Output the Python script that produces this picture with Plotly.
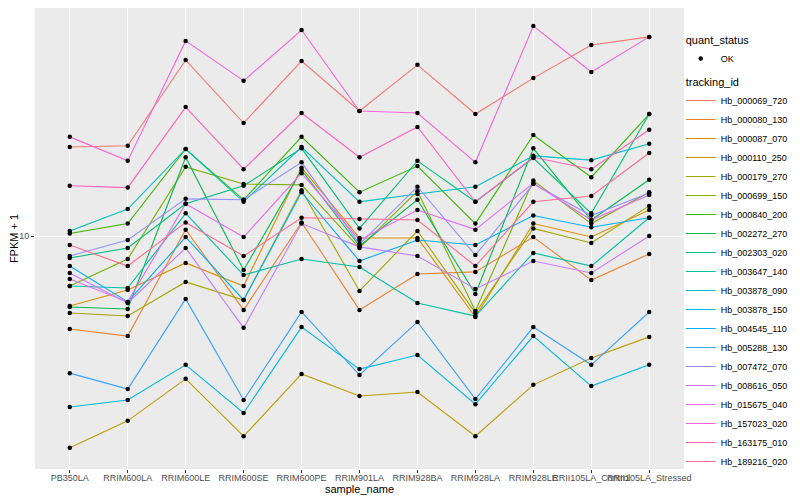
import plotly.graph_objects as go

samples = ["PB350LA", "RRIM600LA", "RRIM600LE", "RRIM600SE", "RRIM600PE", "RRIM901LA",
           "RRIM928BA", "RRIM928LA", "RRIM928LE", "RRII105LA_Control", "RRII105LA_Stressed"]

tracking_ids = ["Hb_000069_720", "Hb_000080_130", "Hb_000087_070", "Hb_000110_250",
                "Hb_000179_270", "Hb_000699_150", "Hb_000840_200", "Hb_002272_270",
                "Hb_002303_020", "Hb_003647_140", "Hb_003878_090", "Hb_003878_150",
                "Hb_004545_110", "Hb_005288_130", "Hb_007472_070", "Hb_008616_050",
                "Hb_015675_040", "Hb_157023_020", "Hb_163175_010", "Hb_189216_020"]

# FPKM + 1 values per gene, one value per sample
Hb_000069_720 = [19.8, 20.0, 38.6, 23.8, 38.3, 26.1, 37.2, 25.5, 33.6, 43.3, 46.1]
Hb_000080_130 = [4.90, 4.64, 10.5, 5.67, 11.1, 5.67, 7.47, 7.59, 9.92, 7.13, 8.71]
Hb_000087_070 = [5.84, 6.61, 8.13, 6.81, 16.9, 9.85, 9.85, 5.37, 11.0, 9.92, 12.2]
Hb_000110_250 = [1.97, 2.42, 3.34, 2.15, 3.47, 2.93, 3.02, 2.15, 3.19, 3.92, 4.61]
Hb_000179_270 = [5.54, 5.41, 7.03, 6.12, 14.2, 6.56, 10.4, 5.54, 10.6, 9.48, 12.6]
Hb_000699_150 = [6.81, 8.38, 17.0, 14.9, 14.8, 9.12, 14.1, 5.62, 15.3, 11.0, 14.0]
Hb_000840_200 = [10.2, 11.0, 19.5, 13.2, 21.4, 14.0, 17.1, 11.0, 21.7, 15.7, 25.5]
Hb_002272_270 = [5.80, 5.71, 18.3, 7.70, 16.6, 9.26, 13.2, 6.41, 19.6, 11.3, 15.4]
Hb_002303_020 = [8.45, 9.12, 12.8, 14.7, 19.6, 10.6, 17.8, 13.0, 18.2, 11.9, 25.5]
Hb_003647_140 = [6.81, 6.71, 11.9, 7.41, 8.38, 7.88, 5.98, 5.41, 8.78, 7.94, 11.5]
Hb_003878_090 = [10.4, 12.3, 19.5, 13.0, 19.8, 13.0, 13.8, 14.6, 18.5, 17.9, 20.3]
Hb_003878_150 = [2.69, 2.84, 3.72, 2.57, 4.97, 3.60, 4.01, 2.75, 4.64, 3.16, 3.72]
Hb_004545_110 = [7.94, 6.03, 9.92, 6.12, 14.0, 8.25, 9.70, 9.33, 11.7, 10.7, 11.5]
Hb_005288_130 = [3.49, 3.09, 6.17, 2.84, 5.58, 3.44, 5.17, 2.86, 4.97, 3.72, 5.58]
Hb_007472_070 = [8.58, 9.70, 13.3, 13.2, 17.6, 9.40, 14.6, 8.64, 14.9, 11.7, 13.9]
Hb_008616_050 = [7.53, 5.98, 9.12, 4.94, 11.0, 9.20, 8.58, 6.66, 8.25, 7.53, 10.0]
Hb_015675_040 = [7.19, 6.03, 12.8, 9.92, 16.2, 9.70, 12.2, 10.5, 15.0, 11.3, 13.7]
Hb_157023_020 = [21.4, 17.8, 44.7, 32.9, 48.6, 26.1, 25.7, 17.6, 50.1, 35.2, 46.1]
Hb_163175_010 = [14.7, 14.5, 26.9, 16.7, 25.7, 18.3, 23.1, 13.0, 18.3, 16.7, 22.6]
Hb_189216_020 = [9.33, 7.94, 11.1, 8.58, 11.5, 11.4, 11.3, 7.94, 13.0, 13.6, 18.9]

series = [Hb_000069_720, Hb_000080_130, Hb_000087_070, Hb_000110_250, Hb_000179_270,
          Hb_000699_150, Hb_000840_200, Hb_002272_270, Hb_002303_020, Hb_003647_140,
          Hb_003878_090, Hb_003878_150, Hb_004545_110, Hb_005288_130, Hb_007472_070,
          Hb_008616_050, Hb_015675_040, Hb_157023_020, Hb_163175_010, Hb_189216_020]

colors = ["#F8766D", "#EA8331", "#D89000", "#C09B00", "#A3A500", "#7CAE00", "#39B600",
          "#00BB4E", "#00BF7D", "#00C1A3", "#00BFC4", "#00BAE0", "#00B0F6", "#35A2FF",
          "#9590FF", "#C77CFF", "#E76BF3", "#FA62DB", "#FF62BC", "#FF6C91"]

FONT = "Liberation Sans, Arial, sans-serif"

fig = go.Figure()
for i, (tid, vals) in enumerate(zip(tracking_ids, series)):
    fig.add_trace(go.Scatter(
        x=samples, y=vals, mode="lines", name=tid,
        line=dict(color=colors[i], width=1.1),
        legendgroup="tracking_id",
        legendgrouptitle=dict(text="tracking_id", font=dict(size=11, color="#000000")),
        legendrank=100 + i, hoverinfo="skip"))

all_x = [s for _ in series for s in samples]
all_y = [v for vals in series for v in vals]
fig.add_trace(go.Scatter(
    x=all_x, y=all_y, mode="markers", name="OK",
    marker=dict(color="black", size=4.5),
    legendgroup="quant_status",
    legendgrouptitle=dict(text="quant_status", font=dict(size=11, color="#000000")),
    legendrank=1))

# the page adds an 8px body margin; the figure is sized so the view matches 800x500
fig.update_layout(
    width=792, height=492,
    margin=dict(l=27, r=116, t=0, b=31, autoexpand=False),
    paper_bgcolor="white", plot_bgcolor="#EBEBEB",
    font=dict(family=FONT, size=9, color="#000000"),
    showlegend=True,
    legend=dict(x=0.995, xanchor="left", y=0.963, yanchor="top",
                font=dict(size=9, color="#000000"), tracegroupgap=4,
                bgcolor="rgba(255,255,255,0)", itemwidth=30),
    xaxis=dict(type="category", categoryorder="array", categoryarray=samples,
               tickmode="array", tickvals=samples, ticktext=samples,
               range=[-0.6, 10.6], showgrid=True, gridcolor="white", gridwidth=1.1,
               ticks="outside", ticklen=3, tickcolor="#333333", tickwidth=1,
               tickangle=0, tickfont=dict(size=9, color="#4D4D4D"), automargin=False,
               ticklabelstandoff=-3,
               title=dict(text="sample_name", font=dict(size=11, color="#000000"), standoff=2),
               zeroline=False, showline=False),
    yaxis=dict(type="log", range=[0.2233, 1.76], tickmode="array", tickvals=[10], ticktext=["10"],
               showgrid=True, gridcolor="white", gridwidth=1.1,
               ticks="outside", ticklen=3, tickcolor="#333333", tickwidth=1,
               tickfont=dict(size=9, color="#4D4D4D"), automargin=False,
               title=dict(text="FPKM + 1", font=dict(size=11, color="#000000"), standoff=4),
               zeroline=False, showline=False),
)

fig.write_html("out.html")
